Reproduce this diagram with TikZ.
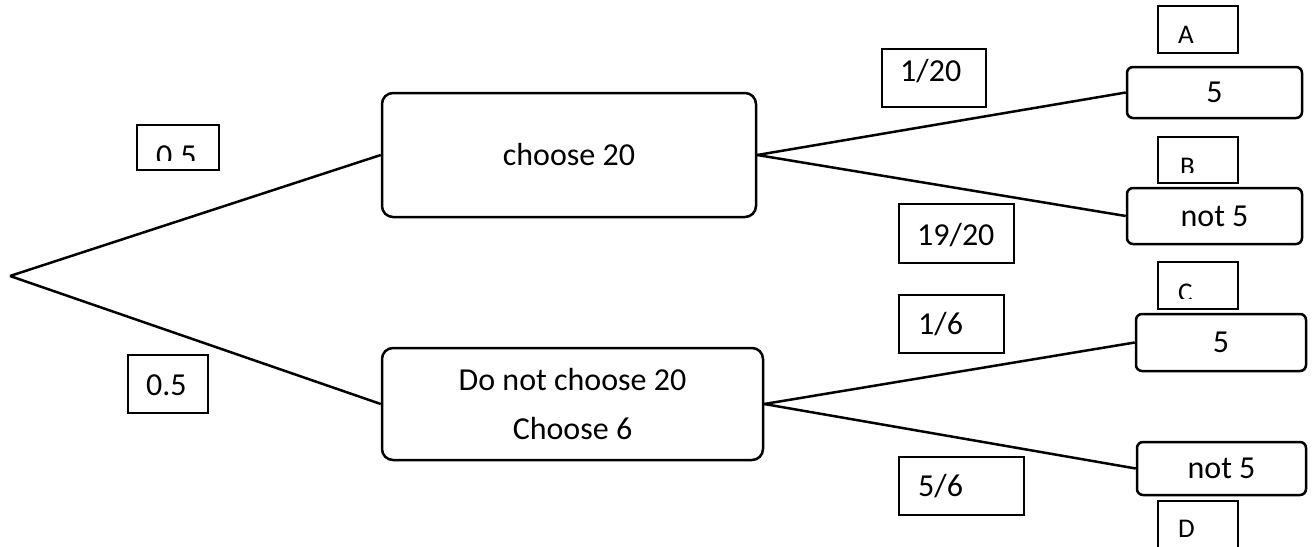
\documentclass[tikz,border=0pt]{standalone}
\usepackage{fontspec}
\setmainfont{Carlito}
\begin{document}
\begin{tikzpicture}[x=1pt, y=-1pt,
  every node/.style={font=\fontsize{32}{38}\selectfont},
  stage/.style={draw, line width=2.5pt, rounded corners=11pt, inner sep=0pt},
  outcome/.style={draw, line width=2.5pt, rounded corners=6pt, inner sep=0pt},
  probbox/.style={draw, line width=2.2pt, inner sep=0pt},
  txt/.style={anchor=base west, inner sep=0pt},
  tag/.style={anchor=base west, inner sep=0pt, font=\fontsize{27}{32}\selectfont},
  branch/.style={line width=2.5pt}]
\useasboundingbox (0,0) rectangle (1313,546);

% decision stages
\coordinate (root) at (10,276);
\node[stage, minimum width=374pt, minimum height=124pt] (c20) at (569,155) {choose 20};
\node[stage, minimum width=381pt, minimum height=112pt, align=center,
      font=\fontsize{32}{49}\selectfont] (c6) at (572.5,404) {Do not choose 20\\Choose 6};

% outcomes
\node[outcome, minimum width=175pt, minimum height=51pt] (a5) at (1214.5,92.5) {5};
\node[outcome, minimum width=175pt, minimum height=56pt] (b5) at (1214.5,216) {not 5};
\node[outcome, minimum width=170pt, minimum height=57pt] (c5) at (1221,342.5) {5};
\node[outcome, minimum width=169pt, minimum height=53pt] (d5) at (1221.5,468.5) {not 5};

% branches
\draw[branch] (root) -- (c20.west);
\draw[branch] (root) -- (c6.west);
\draw[branch] (c20.east) -- (a5.west);
\draw[branch] (c20.east) -- (b5.west);
\draw[branch] (c6.east) -- (c5.west);
\draw[branch] (c6.east) -- (d5.west);

% probability boxes
\node[probbox, minimum width=82pt, minimum height=45pt] (p1) at (178,147.5) {};
\node[probbox, minimum width=80pt, minimum height=58pt] (p2) at (168,384) {};
\node[probbox, minimum width=104pt, minimum height=58pt] (p3) at (934,78) {};
\node[probbox, minimum width=115pt, minimum height=59pt] (p4) at (956.5,233.5) {};
\node[probbox, minimum width=105pt, minimum height=58pt] (p5) at (951.5,324) {};
\node[probbox, minimum width=125pt, minimum height=58pt] (p6) at (961.5,486) {};

\begin{scope}
  \clip (137,125) rectangle (219,160);
  \node[txt] (t1) at (156,166) {0.5};
\end{scope}
\node[txt] (t2) at (146,395) {0.5};
\node[txt] (t3) at (900,81) {1/20};
\node[txt] (t4) at (917,245) {19/20};
\node[txt] (t5) at (918,334) {1/6};
\node[txt] (t6) at (918,496) {5/6};

% outcome tags
\node[probbox, minimum width=80pt, minimum height=47pt] (ta) at (1198,29.5) {};
\node[probbox, minimum width=80pt, minimum height=46pt] (tb) at (1198,160) {};
\node[probbox, minimum width=80pt, minimum height=47pt] (tc) at (1198,285.5) {};
\node[probbox, minimum width=80pt, minimum height=59pt] (td) at (1198,530.5) {};

\node[tag] (la) at (1178,43) {A};
\begin{scope}
  \clip (1158,137) rectangle (1238,172);
  \node[tag] (lb) at (1180,175) {B};
\end{scope}
\begin{scope}
  \clip (1158,262) rectangle (1238,298);
  \node[tag] (lc) at (1178,301) {C};
\end{scope}
\node[tag] (ld) at (1178,537) {D};
\end{tikzpicture}
\end{document}
